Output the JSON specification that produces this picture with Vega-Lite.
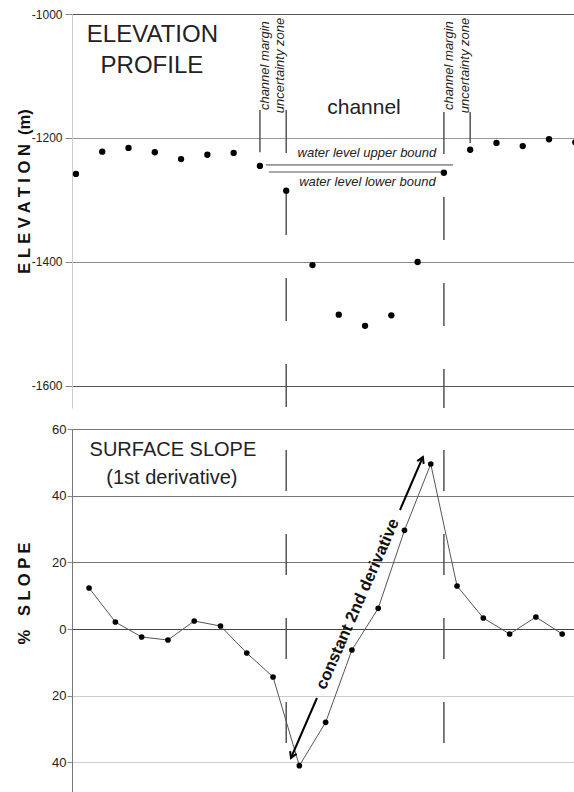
{
  "$schema": "https://vega.github.io/schema/vega-lite/v6.json",
  "background": "white",
  "padding": {"left": 16, "top": 8, "right": 0, "bottom": 0},
  "spacing": 21,
  "bounds": "flush",
  "config": {"view": {"stroke": null}, "font": "Liberation Sans", "text": {"font": "Liberation Sans"}},
  "datasets": {
    "elevation": [
      {"pos": 0, "elev": -1258}, {"pos": 1, "elev": -1222}, {"pos": 2, "elev": -1216}, {"pos": 3, "elev": -1223},
      {"pos": 4, "elev": -1234}, {"pos": 5, "elev": -1227}, {"pos": 6, "elev": -1224}, {"pos": 7, "elev": -1245},
      {"pos": 8, "elev": -1285}, {"pos": 9, "elev": -1405}, {"pos": 10, "elev": -1485}, {"pos": 11, "elev": -1503},
      {"pos": 12, "elev": -1486}, {"pos": 13, "elev": -1400}, {"pos": 14, "elev": -1256}, {"pos": 15, "elev": -1219},
      {"pos": 16, "elev": -1208}, {"pos": 17, "elev": -1213}, {"pos": 18, "elev": -1202}, {"pos": 19, "elev": -1207}
    ],
    "slope": [
      {"pos": 0.5, "slope": 12.3}, {"pos": 1.5, "slope": 2.1}, {"pos": 2.5, "slope": -2.4}, {"pos": 3.5, "slope": -3.3},
      {"pos": 4.5, "slope": 2.4}, {"pos": 5.5, "slope": 0.9}, {"pos": 6.5, "slope": -7.2}, {"pos": 7.5, "slope": -14.4},
      {"pos": 8.5, "slope": -41}, {"pos": 9.5, "slope": -28}, {"pos": 10.5, "slope": -6.3}, {"pos": 11.5, "slope": 6.2},
      {"pos": 12.5, "slope": 29.6}, {"pos": 13.5, "slope": 49.5}, {"pos": 14.5, "slope": 12.9}, {"pos": 15.5, "slope": 3.3},
      {"pos": 16.5, "slope": -1.5}, {"pos": 17.5, "slope": 3.6}, {"pos": 18.5, "slope": -1.5}
    ],
    "zoneTicks": [
      {"pos": 7, "elev": -1155, "elev2": -1223},
      {"pos": 8, "elev": -1155, "elev2": -1224},
      {"pos": 14, "elev": -1158, "elev2": -1226},
      {"pos": 15, "elev": -1158, "elev2": -1208}
    ],
    "zoneDashTop": [
      {"pos": 8, "elev": -1287, "elev2": -1635.5},
      {"pos": 14, "elev": -1295, "elev2": -1635.5}
    ],
    "zoneDashBottom": [
      {"pos": 8, "slope": 53.7, "slope2": -34.2},
      {"pos": 14, "slope": 53.7, "slope2": -34.2}
    ],
    "waterLevels": [
      {"bound": "upper", "pos": 7.23, "pos2": 14.35, "elev": -1243.5},
      {"bound": "lower", "pos": 7.34, "pos2": 13.93, "elev": -1255}
    ],
    "topTitle": [
      {"label": "ELEVATION", "pos": 2.91, "elev": -1045},
      {"label": "PROFILE", "pos": 2.89, "elev": -1095}
    ],
    "channelLabel": [{"label": "channel", "pos": 10.96, "elev": -1161}],
    "waterLabels": [
      {"label": "water level upper bound", "pos": 11.07, "elev": -1230.6},
      {"label": "water level lower bound", "pos": 11.09, "elev": -1277}
    ],
    "zoneLabels": [
      {"label": "channel margin", "pos": 7.19, "elev": -1155},
      {"label": "uncertainty zone", "pos": 7.76, "elev": -1160},
      {"label": "channel margin", "pos": 14.19, "elev": -1155},
      {"label": "uncertainty zone", "pos": 14.8, "elev": -1160}
    ],
    "bottomTitle": [
      {"label": "SURFACE SLOPE", "pos": 3.69, "slope": 51.9},
      {"label": "(1st derivative)", "pos": 3.65, "slope": 43.5}
    ],
    "arrowSegments": [
      {"pos": 8.18, "slope": -38.7, "pos2": 9.17, "slope2": -20.7},
      {"pos": 12.33, "slope": 35.7, "pos2": 13.2, "slope2": 51.6}
    ],
    "arrowHeadUp": [{"pos": 13.2, "slope": 51.6}],
    "arrowHeadDown": [{"pos": 8.18, "slope": -38.7}],
    "arrowLabel": [{"label": "constant 2nd derivative", "pos": 10.72, "slope": 7.5}]
  },
  "vconcat": [
    {
      "width": 502,
      "height": 394,
      "encoding": {
        "x": {"field": "pos", "type": "quantitative", "scale": {"domain": [-0.15, 18.95], "nice": false, "zero": false}, "axis": null},
        "y": {
          "field": "elev", "type": "quantitative",
          "scale": {"domain": [-1635.5, -1000], "nice": false, "zero": false},
          "axis": {
            "values": [-1000, -1200, -1400, -1600],
            "labelExpr": "'-' + abs(datum.value)",
            "labelFontSize": 12, "labelColor": "#222", "labelPadding": 3,
            "labelFlush": false, "labelOverlap": false,
            "ticks": true, "tickSize": 7, "tickColor": "#888",
            "domain": true, "domainColor": "#ccc",
            "grid": true,
            "gridColor": {"condition": [{"test": "datum.value == -1200", "value": "#999"}, {"test": "datum.value == -1400", "value": "#888"}], "value": "#555"},
            "gridWidth": 1.2,
            "title": "E L E V A T I O N \u00a0(m)",
            "titleFontSize": 16.5, "titleFontWeight": "bold", "titleColor": "#111",
            "titlePadding": 4, "minExtent": 36, "maxExtent": 36, "titleY": 177
          }
        }
      },
      "layer": [
        {
          "data": {"name": "zoneDashTop"},
          "mark": {"type": "rule", "color": "#555", "strokeWidth": 1.5, "strokeDash": [43, 43]},
          "encoding": {"y2": {"field": "elev2"}}
        },
        {
          "data": {"name": "zoneTicks"},
          "mark": {"type": "rule", "color": "#555", "strokeWidth": 1.5},
          "encoding": {"y2": {"field": "elev2"}}
        },
        {
          "data": {"name": "waterLevels"},
          "mark": {"type": "rule"},
          "encoding": {
            "x2": {"field": "pos2"},
            "color": {"field": "bound", "type": "nominal", "scale": {"domain": ["upper", "lower"], "range": ["#444", "#aaa"]}, "legend": null},
            "strokeWidth": {"field": "bound", "type": "nominal", "scale": {"domain": ["upper", "lower"], "range": [1, 2]}, "legend": null}
          }
        },
        {
          "data": {"name": "elevation"},
          "mark": {"type": "point", "filled": true, "color": "black", "size": 40, "opacity": 1, "clip": true}
        },
        {
          "data": {"name": "topTitle"},
          "mark": {"type": "text", "fontSize": 24, "color": "#222", "align": "center", "baseline": "alphabetic"},
          "encoding": {"text": {"field": "label"}}
        },
        {
          "data": {"name": "channelLabel"},
          "mark": {"type": "text", "fontSize": 21, "color": "#222", "align": "center", "baseline": "alphabetic"},
          "encoding": {"text": {"field": "label"}}
        },
        {
          "data": {"name": "waterLabels"},
          "mark": {"type": "text", "fontSize": 13, "fontStyle": "italic", "color": "#222", "align": "center", "baseline": "alphabetic"},
          "encoding": {"text": {"field": "label"}}
        },
        {
          "data": {"name": "zoneLabels"},
          "mark": {"type": "text", "fontSize": 13, "fontStyle": "italic", "color": "#222", "align": "left", "baseline": "middle", "angle": 270},
          "encoding": {"text": {"field": "label"}}
        }
      ]
    },
    {
      "width": 502,
      "height": 363,
      "encoding": {
        "x": {"field": "pos", "type": "quantitative", "scale": {"domain": [-0.15, 18.95], "nice": false, "zero": false}, "axis": null},
        "y": {
          "field": "slope", "type": "quantitative",
          "scale": {"domain": [-48.9, 60], "nice": false, "zero": false},
          "axis": {
            "values": [60, 40, 20, 0, -20, -40],
            "labelExpr": "'' + abs(datum.value)",
            "labelFontSize": 13, "labelColor": "#222", "labelPadding": 1,
            "labelFlush": false, "labelOverlap": false,
            "ticks": true, "tickSize": 5, "tickColor": "#888",
            "domain": true, "domainColor": "#777",
            "grid": true,
            "gridColor": {"condition": [{"test": "datum.value == 0", "value": "#444"}, {"test": "datum.value < 0", "value": "#ccc"}], "value": "#777"},
            "gridWidth": 1.2,
            "title": "% \u00a0 S L O P E",
            "titleFontSize": 16.5, "titleFontWeight": "bold", "titleColor": "#111",
            "titlePadding": 4, "minExtent": 36, "maxExtent": 36, "titleY": 164
          }
        }
      },
      "layer": [
        {
          "data": {"name": "zoneDashBottom"},
          "mark": {"type": "rule", "color": "#555", "strokeWidth": 1.5, "strokeDash": [41, 43]},
          "encoding": {"y2": {"field": "slope2"}}
        },
        {
          "data": {"name": "slope"},
          "mark": {"type": "line", "color": "#555", "strokeWidth": 1}
        },
        {
          "data": {"name": "slope"},
          "mark": {"type": "point", "filled": true, "color": "black", "size": 32, "opacity": 1}
        },
        {
          "data": {"name": "arrowSegments"},
          "mark": {"type": "rule", "color": "black", "strokeWidth": 2},
          "encoding": {"x2": {"field": "pos2"}, "y2": {"field": "slope2"}}
        },
        {
          "data": {"name": "arrowHeadUp"},
          "mark": {"type": "point", "shape": "M-0.7,1.2L0,0L0.7,1.2", "filled": false, "color": "black", "strokeWidth": 2, "size": 100, "angle": 23.7, "opacity": 1}
        },
        {
          "data": {"name": "arrowHeadDown"},
          "mark": {"type": "point", "shape": "M-0.7,1.2L0,0L0.7,1.2", "filled": false, "color": "black", "strokeWidth": 2, "size": 100, "angle": 203.7, "opacity": 1}
        },
        {
          "data": {"name": "bottomTitle"},
          "mark": {"type": "text", "fontSize": 20, "color": "#222", "align": "center", "baseline": "alphabetic"},
          "encoding": {"text": {"field": "label"}}
        },
        {
          "data": {"name": "arrowLabel"},
          "mark": {"type": "text", "fontSize": 16.5, "fontWeight": "bold", "color": "#111", "align": "center", "baseline": "middle", "angle": 293.7},
          "encoding": {"text": {"field": "label"}}
        }
      ]
    }
  ]
}
